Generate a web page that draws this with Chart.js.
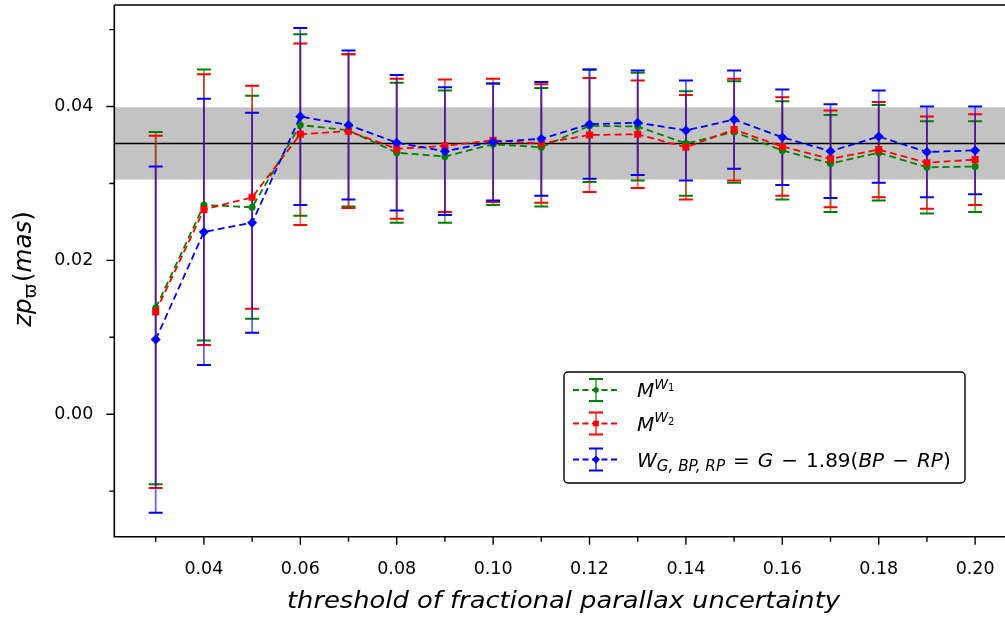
<!DOCTYPE html>
<html><head><meta charset="utf-8">
<script src="https://cdn.jsdelivr.net/npm/chart.js@4.4.0/dist/chart.umd.min.js"></script>
<style>html,body{margin:0;padding:0;background:#fff;overflow:hidden}#wrap{width:1010px;height:622px;position:relative}</style>
</head><body><div id="wrap"><canvas id="c"></canvas></div>
<script>
// ---- data ----
const thresholds = [0.03,0.04,0.05,0.06,0.07,0.08,0.09,0.10,0.11,0.12,0.13,0.14,0.15,0.16,0.17,0.18,0.19,0.20];
const mw1    = [0.0138,0.0272,0.0269,0.0376,0.0369,0.0340,0.0335,0.0351,0.0347,0.0375,0.0374,0.0352,0.0367,0.0343,0.0326,0.0340,0.0321,0.0322];
const mw1Err = [0.0229,0.0176,0.0145,0.0118,0.0099,0.0091,0.0086,0.0079,0.0077,0.0073,0.0070,0.0068,0.0066,0.0064,0.0063,0.0062,0.0060,0.0059];
const mw2    = [0.0133,0.0266,0.0282,0.0364,0.0368,0.0345,0.0349,0.0356,0.0352,0.0363,0.0364,0.0347,0.0370,0.0348,0.0332,0.0344,0.0327,0.0331];
const mw2Err = [0.0229,0.0176,0.0145,0.0118,0.0100,0.0091,0.0086,0.0080,0.0077,0.0074,0.0070,0.0068,0.0066,0.0064,0.0063,0.0062,0.0060,0.0059];
const wg     = [0.0097,0.0237,0.0249,0.0387,0.0376,0.0353,0.0342,0.0354,0.0358,0.0377,0.0379,0.0369,0.0383,0.0360,0.0342,0.0361,0.0341,0.0343];
const wgErr  = [0.0225,0.0173,0.0143,0.0115,0.0097,0.0088,0.0083,0.0076,0.0074,0.0071,0.0068,0.0065,0.0064,0.0062,0.0061,0.0060,0.0059,0.0057];
const refValue = 0.0352;
const refBand = [0.0305, 0.0399];
const xTickValues = [0.03,0.04,0.05,0.06,0.07,0.08,0.09,0.10,0.11,0.12,0.13,0.14,0.15,0.16,0.17,0.18,0.19,0.20];
const xTickLabels = ['','0.04','','0.06','','0.08','','0.10','','0.12','','0.14','','0.16','','0.18','','0.20'];
const yTickValues = [-0.01,0.00,0.01,0.02,0.03,0.04,0.05];
const yTickLabels = ['','0.00','','0.02','','0.04',''];
const xTitle = 'threshold of fractional parallax uncertainty';

const FONT = "'DejaVu Sans'";
const series = [
  {name:'mw1', values:mw1, errs:mw1Err, color:'#008000', bar:'rgba(0,128,0,0.6)', style:'circle', r:3.5},
  {name:'mw2', values:mw2, errs:mw2Err, color:'#ff0000', bar:'rgba(255,0,0,0.6)', style:'rect', r:5},
  {name:'wg',  values:wg,  errs:wgErr,  color:'#0000ff', bar:'rgba(0,0,255,0.6)', style:'rectRot', r:5}
];

function drawRich(ctx, segs, x, y, base, align){
  let w = 0;
  segs.forEach(s => { ctx.font = (s.it?'italic ':'') + (base*(s.s||1)).toFixed(2)+'px '+FONT; s._w = ctx.measureText(s.t).width; w += s._w + (s.gap||0)*base; });
  let cx = align==='center' ? x - w/2 : x;
  ctx.textBaseline = 'alphabetic'; ctx.textAlign = 'left';
  segs.forEach(s => { ctx.font = (s.it?'italic ':'') + (base*(s.s||1)).toFixed(2)+'px '+FONT; ctx.fillText(s.t, cx, y + (s.dy||0)*base); cx += s._w + (s.gap||0)*base; });
  return w;
}
function zeroPad(sc){ sc.paddingLeft = 0; sc.paddingRight = 0; sc.paddingTop = 0; sc.paddingBottom = 0; }

const decor = {
  id:'decor',
  beforeDatasetsDraw(chart){
    const {ctx, chartArea:a, scales:{x,y}} = chart;
    ctx.save();
    ctx.fillStyle = '#c3c3c3';
    const y1 = y.getPixelForValue(refBand[1]), y0 = y.getPixelForValue(refBand[0]);
    ctx.fillRect(a.left, y1, a.right-a.left, y0-y1);
    ctx.strokeStyle = '#000'; ctx.lineWidth = 1.6;
    const yr = y.getPixelForValue(refValue);
    ctx.beginPath(); ctx.moveTo(a.left, yr); ctx.lineTo(a.right, yr); ctx.stroke();
    // error bars
    series.forEach(s => {
      s.values.forEach((v,i) => {
        const px = x.getPixelForValue(thresholds[i]);
        const pt = y.getPixelForValue(v + s.errs[i]);
        const pb = y.getPixelForValue(v - s.errs[i]);
        ctx.strokeStyle = s.bar; ctx.lineWidth = 1.8;
        ctx.beginPath(); ctx.moveTo(px, pt); ctx.lineTo(px, pb); ctx.stroke();
        ctx.strokeStyle = s.color; ctx.lineWidth = 2;
        ctx.beginPath(); ctx.moveTo(px-7, pt); ctx.lineTo(px+7, pt); ctx.moveTo(px-7, pb); ctx.lineTo(px+7, pb); ctx.stroke();
      });
    });
    ctx.restore();
  },
  afterDraw(chart){
    const {ctx, chartArea:a, scales:{x,y}} = chart;
    ctx.save();
    ctx.strokeStyle = '#000'; ctx.lineWidth = 1.6;
    ctx.beginPath();
    ctx.moveTo(a.left, a.top); ctx.lineTo(a.left, a.bottom); ctx.lineTo(a.right+2, a.bottom);
    ctx.moveTo(a.left, a.top); ctx.lineTo(a.right+2, a.top);
    ctx.stroke();
    ctx.lineWidth = 1.4;
    ctx.beginPath();
    x.ticks.forEach((t,i) => { const px = x.getPixelForValue(t.value); const L = xTickLabels[i] ? 8 : 5; ctx.moveTo(px, a.bottom); ctx.lineTo(px, a.bottom+L); });
    y.ticks.forEach((t,i) => { const py = y.getPixelForValue(t.value); const L = yTickLabels[i] ? 8 : 5; ctx.moveTo(a.left, py); ctx.lineTo(a.left-L, py); });
    ctx.stroke();
    ctx.fillStyle = '#000';
    // x title (stretched to the reference's width)
    ctx.save();
    ctx.font = 'italic 23.5px ' + FONT;
    const tw = ctx.measureText(xTitle).width;
    const sx = 553 / tw;
    ctx.translate(563.5, 608); ctx.scale(sx, 1);
    ctx.textAlign = 'center'; ctx.textBaseline = 'alphabetic';
    ctx.fillText(xTitle, 0, 0);
    ctx.restore();
    // y title
    ctx.save(); ctx.translate(31, 269); ctx.rotate(-Math.PI/2);
    drawRich(ctx, [{t:'zp',it:true},{t:'ϖ',it:false,s:0.7,dy:0.22,gap:0.08},{t:'(',s:1},{t:'mas',it:true},{t:')'}], 0, 0, 24.5, 'center');
    ctx.restore();
    // legend
    const L = {x:564, y:372, w:401, h:111};
    ctx.fillStyle = 'rgba(255,255,255,0.85)'; ctx.strokeStyle = '#000'; ctx.lineWidth = 1.4;
    ctx.beginPath(); ctx.roundRect(L.x, L.y, L.w, L.h, 4); ctx.fill(); ctx.stroke();
    const rows = [390, 423.5, 459.5];
    const labels = [
      [{t:'M',it:true},{t:'W',it:true,s:0.7,dy:-0.42},{t:'1',s:0.5,dy:-0.3}],
      [{t:'M',it:true},{t:'W',it:true,s:0.7,dy:-0.42},{t:'2',s:0.5,dy:-0.3}],
      [{t:'W',it:true},{t:'G, BP, RP',it:true,s:0.76,dy:0.2,gap:0.4},{t:'=',gap:0.4},{t:'G',it:true,gap:0.4},{t:'−',gap:0.4},{t:'1.89('},{t:'BP',it:true,gap:0.4},{t:'−',gap:0.4},{t:'RP',it:true},{t:')'}]
    ];
    series.forEach((s,k) => {
      const cy = rows[k];
      ctx.strokeStyle = s.color; ctx.lineWidth = 1.8; ctx.setLineDash([6,3.5]);
      ctx.beginPath(); ctx.moveTo(573, cy); ctx.lineTo(618, cy); ctx.stroke();
      ctx.setLineDash([]);
      ctx.strokeStyle = s.bar; ctx.lineWidth = 2;
      ctx.beginPath(); ctx.moveTo(596, cy-11); ctx.lineTo(596, cy+11); ctx.stroke();
      ctx.strokeStyle = s.color;
      ctx.beginPath(); ctx.moveTo(589, cy-11); ctx.lineTo(603, cy-11); ctx.moveTo(589, cy+11); ctx.lineTo(603, cy+11); ctx.stroke();
      ctx.fillStyle = s.color;
      Chart.helpers.drawPoint(ctx, {pointStyle:s.style, radius:s.r*0.8, borderWidth:0}, 596, cy);
      ctx.fillStyle = '#000';
      drawRich(ctx, labels[k], 637, cy + 7, 20, 'left');
    });
    ctx.restore();
  }
};

const datasets = series.map((s,k) => ({
  label: s.name,
  data: thresholds.map((t,i) => ({x:t, y:s.values[i]})),
  borderColor: s.color, backgroundColor: s.color,
  borderWidth: 1.8, borderDash: [7,4],
  pointStyle: s.style, pointRadius: s.r, pointBorderWidth: 0,
  pointBackgroundColor: s.color, fill:false, tension:0,
  order: 2-k
}));

new Chart(document.getElementById('c'), {
  type: 'line',
  data: { datasets },
  plugins: [decor],
  options: {
    responsive: true, maintainAspectRatio: false, animation: false,
    layout: { padding: { top: 1, right: 0, left: 0, bottom: 0 } },
    plugins: { legend: {display:false}, tooltip: {enabled:false} },
    scales: {
      x: {
        type: 'linear', min: 0.02141, max: 0.2062,
        afterBuildTicks: sc => { sc.ticks = xTickValues.map(v => ({value:v})); },
        afterFit: sc => { sc.height = 85.3; zeroPad(sc); },
        grid: { display:false, drawTicks:false },
        border: { display:false },
        ticks: { autoSkip:false, maxRotation:0, padding:22, color:'#000', font:{family:FONT, size:17.5},
                 callback: (v,i) => xTickLabels[i] },
        title: { display:false }
      },
      y: {
        type: 'linear', min: -0.01592, max: 0.0532,
        afterBuildTicks: sc => { sc.ticks = yTickValues.map(v => ({value:v})); },
        afterFit: sc => { sc.width = 114.3; zeroPad(sc); },
        grid: { display:false, drawTicks:false },
        border: { display:false },
        ticks: { autoSkip:false, padding:21, color:'#000', font:{family:FONT, size:17.5},
                 callback: (v,i) => yTickLabels[i] }
      }
    }
  }
});
</script></body></html>
